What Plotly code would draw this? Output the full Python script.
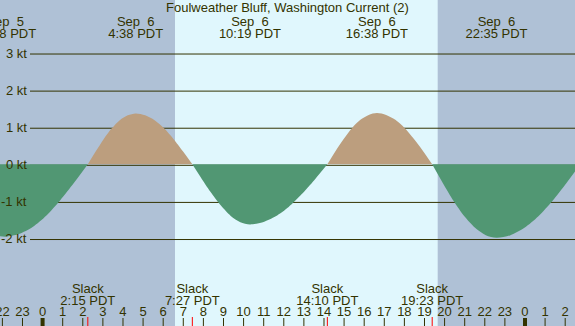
import plotly.graph_objects as go

# ---- data (hours from Sep 6 00:00 PDT, current in knots) ----
hours = [-3.239, -2.553, -1.867, -1.181, -0.495, 0.192, 0.878, 1.564, 2.25,
         2.647, 3.044, 3.442, 3.839, 4.236, 4.633,
         5.103, 5.572, 6.042, 6.511, 6.981, 7.45,
         7.928, 8.406, 8.883, 9.361, 9.839, 10.317,
         10.958, 11.6, 12.242, 12.883, 13.525, 14.167,
         14.578, 14.989, 15.4, 15.811, 16.222, 16.633,
         17.092, 17.55, 18.008, 18.467, 18.925, 19.383,
         19.917, 20.45, 20.983, 21.517, 22.05, 22.583,
         23.278, 23.972, 24.667, 25.361, 26.056, 26.75]
knots = [-1.69, -1.88, -1.95, -1.88, -1.69, -1.38, -0.97, -0.50, 0.0,
         0.35, 0.685, 0.97, 1.19, 1.32, 1.37,
         1.32, 1.19, 0.97, 0.685, 0.35, 0.0,
         -0.40, -0.78, -1.12, -1.39, -1.56, -1.62,
         -1.56, -1.40, -1.15, -0.81, -0.42, 0.0,
         0.36, 0.69, 0.98, 1.20, 1.33, 1.38,
         1.33, 1.20, 0.98, 0.69, 0.36, 0.0,
         -0.51, -0.99, -1.40, -1.71, -1.91, -1.98,
         -1.91, -1.71, -1.40, -0.99, -0.51, 0.0]

event_hours = [-1.867, 4.633, 10.317, 16.633, 22.583]
event_dates = ["Sep\u00a0\u00a05", "Sep\u00a0\u00a06", "Sep\u00a0\u00a06", "Sep\u00a0\u00a06", "Sep\u00a0\u00a06"]
event_times = ["22:08 PDT", "4:38 PDT", "10:19 PDT", "16:38 PDT", "22:35 PDT"]

slack_hours = [2.25, 7.45, 14.167, 19.383, 26.75]
slack_names = ["Slack"] * 5
slack_times = ["2:15 PDT", "7:27 PDT", "14:10 PDT", "19:23 PDT", "2:45 PDT"]

hour_ticks = list(range(-2, 27))
hour_labels = [str(h % 24) for h in hour_ticks]
midnights = [0, 24]

kt_levels = [-2, -1, 0, 1, 2, 3]
kt_labels = ["-2 kt", "-1 kt", "0 kt", "1 kt", "2 kt", "3 kt"]

sunrise, sunset = 6.587, 19.657
title = "Foulweather Bluff, Washington Current (2)"

# ---- style ----
W, H = 575, 326
NIGHT = "#afc1d6"
DAY = "#e0f7fd"
FLOOD = "#bc9e7e"
EBB = "#519773"
INK = "#333300"
FONT = "Liberation Sans, Arial, sans-serif"
x_range = [-2.119, 26.488]
y_range = [-4.358, 4.429]

fig = go.Figure()

# split the curve into flood / ebb lobes at slack points
segments = []
cur_x, cur_y = [], []
for t, v in zip(hours, knots):
    cur_x.append(t)
    cur_y.append(v)
    if v == 0 and len(cur_x) > 1:
        segments.append((cur_x, cur_y))
        cur_x, cur_y = [t], [v]
if len(cur_x) > 1:
    segments.append((cur_x, cur_y))

for sx, sy in segments:
    positive = sum(sy) > 0
    fig.add_trace(go.Scatter(
        x=sx, y=sy, mode="lines", line=dict(width=0, shape="spline", smoothing=0.8),
        fill="tozeroy", fillcolor=FLOOD if positive else EBB,
        hoverinfo="skip", showlegend=False))

def text_row(xs, texts, ypix):
    fig.add_trace(go.Scatter(
        x=xs, y=[ypix] * len(xs), text=texts, mode="text", yaxis="y2",
        textposition="middle center", cliponaxis=False,
        textfont=dict(family=FONT, size=13, color=INK),
        hoverinfo="skip", showlegend=False))

text_row(event_hours, event_dates, 22.5)
text_row(event_hours, event_times, 34.5)
text_row(slack_hours, slack_names, 290)
text_row(slack_hours, slack_times, 301.5)
text_row(hour_ticks, hour_labels, 313)

shapes = [dict(type="rect", xref="x", yref="paper", x0=sunrise, x1=sunset, y0=0, y1=1,
               fillcolor=DAY, line=dict(width=0), layer="below")]
for lv in kt_levels:
    shapes.append(dict(type="line", xref="paper", yref="y", x0=30 / W, x1=1,
                       ysizemode="pixel", yanchor=lv, y0=-1, y1=-1,
                       line=dict(color=INK, width=1), layer="below"))
for h in hour_ticks:
    shapes.append(dict(type="line", xref="x", yref="paper", x0=h, x1=h,
                       y0=0, y1=8 / H, line=dict(color=INK, width=4 if h in midnights else 1)))
for s in slack_hours:
    shapes.append(dict(type="line", xref="x", yref="paper", x0=s, x1=s,
                       y0=0, y1=9 / H, line=dict(color="#ff0000", width=1)))

annotations = [dict(text=title, xref="paper", yref="paper", x=0.5, y=1 - 8 / H,
                    xanchor="center", yanchor="middle", showarrow=False,
                    font=dict(family=FONT, size=13, color=INK))]
for lv, lab in zip(kt_levels, kt_labels):
    annotations.append(dict(text=lab, xref="paper", yref="y", x=29 / W, y=lv,
                            xanchor="right", yanchor="middle", showarrow=False,
                            font=dict(family=FONT, size=13, color=INK)))

fig.update_layout(
    width=W, height=H, margin=dict(l=0, r=0, t=0, b=0, pad=0),
    paper_bgcolor=NIGHT, plot_bgcolor=NIGHT, showlegend=False,
    xaxis=dict(range=x_range, visible=False, fixedrange=True),
    yaxis=dict(range=y_range, visible=False, fixedrange=True),
    yaxis2=dict(range=[H, 0], overlaying="y", visible=False, fixedrange=True),
    shapes=shapes, annotations=annotations,
)

fig.write_html("out.html", config={"displayModeBar": False, "staticPlot": True},
               post_script="document.body.style.margin='0';document.body.style.overflow='hidden';")
